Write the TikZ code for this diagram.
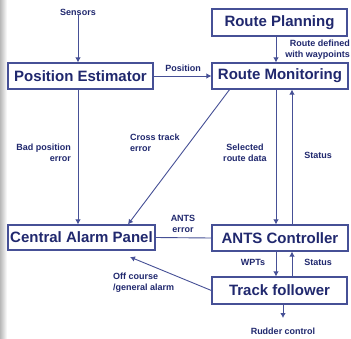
\documentclass[tikz,border=0pt]{standalone}
\usepackage{fontspec}
\setmainfont{Liberation Sans}
\usetikzlibrary{arrows.meta}
\definecolor{textc}{RGB}{32,40,110}
\definecolor{linec}{RGB}{70,80,150}
\begin{document}
\begin{tikzpicture}[x=1pt,y=-1pt,
  boxn/.style={draw=linec, line width=1.2pt, fill=white, text=textc, inner sep=0pt,
    font=\bfseries\fontsize{15}{17}\selectfont},
  lbl/.style={text=textc, inner sep=0pt, font=\bfseries\fontsize{9}{11}\selectfont},
  arr/.style={draw=linec, line width=0.9pt, -{Latex[length=5pt,width=5.5pt]}},
  ln/.style={draw=linec, line width=0.9pt}]
\useasboundingbox (0,0) rectangle (351,338);
\fill[white] (0,0) rectangle (351,338);
\fill[left color=black!28, right color=white] (0,0) rectangle (7,338);
% boxes
\node[boxn, minimum width=145pt, minimum height=26pt] (PE) at (80.5,76) {Position Estimator};
\node[boxn, minimum width=135pt, minimum height=27pt] (RP) at (279.5,22.5) {Route Planning};
\node[boxn, minimum width=136pt, minimum height=26pt] (RM) at (280,76) {Route Monitoring};
\node[boxn, minimum width=147pt, minimum height=25pt] (CAP) at (81.5,237.5) {Central Alarm Panel};
\node[boxn, minimum width=136pt, minimum height=26pt] (AC) at (280,238) {ANTS Controller};
\node[boxn, minimum width=135pt, minimum height=27pt] (TF) at (279.5,290.5) {Track follower};
% reference coordinates
\coordinate (xl) at (78,0);
\coordinate (xc) at (128,0);
\coordinate (xd) at (276,0);
\coordinate (xu) at (292,0);
\coordinate (xr) at (283,0);
\coordinate (ct) at (230,89);
\coordinate (oc) at (130,257);
\coordinate (rud) at (283,318);
% labels
\node[lbl] (sen) at (78,12) {Sensors};
\node[lbl] (pos) at (183,68) {Position};
\node[lbl, anchor=east, align=right] (rdw) at (350,50) {Route defined\\with waypoints};
\node[lbl, anchor=east, align=right] (bpe) at (71,153) {Bad position\\error};
\node[lbl, anchor=west, align=left] (cte) at (130,143) {Cross track\\error};
\node[lbl, align=center] (srd) at (245,153) {Selected\\route data};
\node[lbl] (st1) at (318,155) {Status};
\node[lbl, align=center] (ae) at (183,224) {ANTS\\error};
\node[lbl] (wpt) at (253,262) {WPTs};
\node[lbl] (st2) at (318,262) {Status};
\node[lbl, anchor=west, align=left] (ocg) at (113,282.5) {Off course\\/general alarm};
\node[lbl] (rc) at (283,331) {Rudder control};
% connectors
\draw[arr] (sen.south -| xl) -- (PE.north -| xl);
\draw[arr] (PE.east) -- (RM.west);
\draw[arr] (RP.south -| xd) -- (RM.north -| xd);
\draw[arr] (PE.south -| xl) -- (CAP.north -| xl);
\draw[arr] (ct) -- (CAP.north -| xc);
\draw[arr] (RM.south -| xd) -- (AC.north -| xd);
\draw[arr] (AC.north -| xu) -- (RM.south -| xu);
\draw[ln] (AC.west) -- (CAP.east);
\draw[arr] (AC.south -| xd) -- (TF.north -| xd);
\draw[arr] (TF.north -| xu) -- (AC.south -| xu);
\draw[arr] (TF.west) -- (oc);
\draw[arr] (TF.south -| xr) -- (rud);
\end{tikzpicture}
\end{document}
